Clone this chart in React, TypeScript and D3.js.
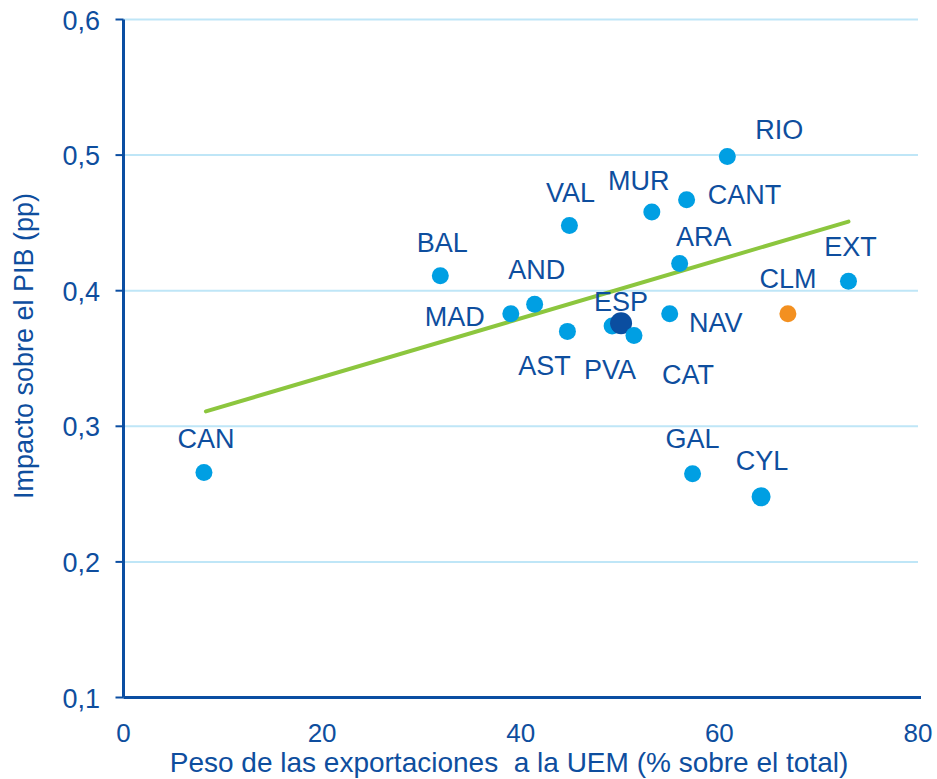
import * as d3 from 'd3';

const regions = ['CAN', 'BAL', 'MAD', 'AND', 'VAL', 'AST', 'PVA', 'ESP', 'CAT', 'NAV', 'ARA', 'MUR', 'CANT', 'RIO', 'EXT', 'CLM', 'GAL', 'CYL'];
const exportShare = [8.1, 31.9, 39.0, 41.4, 44.9, 44.7, 49.2, 50.1, 51.4, 55.0, 56.0, 53.2, 56.7, 60.8, 73.0, 66.9, 57.3, 64.2];
const gdpImpact = [0.266, 0.411, 0.383, 0.39, 0.448, 0.37, 0.374, 0.376, 0.367, 0.383, 0.42, 0.458, 0.467, 0.499, 0.407, 0.383, 0.265, 0.248];
const trendX = [8.3, 73.0];
const trendY = [0.311, 0.451];
const xTicks = [0, 20, 40, 60, 80];
const yTicks = [0.1, 0.2, 0.3, 0.4, 0.5, 0.6];

// label placement relative to each dot (px)
const labelOffsets: Record<string, [number, number]> = {
	CAN: [2, -24], BAL: [2, -24], MAD: [-56, 12], AND: [2, -25], VAL: [1, -24],
	AST: [-23, 44], PVA: [-2, 53], ESP: [0, -12], CAT: [54, 49], NAV: [46, 18],
	ARA: [24, -18], MUR: [-13, -22], CANT: [58, 4], RIO: [52, -17], EXT: [2, -25],
	CLM: [0, -26], GAL: [0, -26], CYL: [1, -27],
};

const W = 937;
const H = 779;
const FONT = '"Liberation Sans", Arial, sans-serif';
const TEXT = '#0E4E9E';
const AXIS = '#0B4EA2';

export default function App() {
	const x = d3.scaleLinear().domain([0, 80]).range([123.5, 918]);
	const y = d3.scaleLinear().domain([0.1, 0.6]).range([697.5, 19.5]);
	const fmt = (v: number) => d3.format('.1f')(v).replace('.', ',');

	const trend = d3.line<number>()
		.x((_, i) => x(trendX[i]))
		.y((_, i) => y(trendY[i]))(trendX) ?? '';

	const dotColor = (r: string) => (r === 'ESP' ? '#0B4EA0' : r === 'CLM' ? '#F39020' : '#009FE3');
	const dotR = (r: string) => (r === 'ESP' ? 11 : r === 'CYL' ? 9.5 : 8.5);

	return (
		<svg width={W} height={H} style={{ position: 'absolute', left: 0, top: 0, background: '#fff' }} fontFamily={FONT}>
			{yTicks.filter((t) => t > 0.1).map((t) => (
				<line key={t} x1={x(0)} x2={x(80)} y1={y(t)} y2={y(t)} stroke='#BFE6F7' strokeWidth={2} />
			))}
			<line x1={x(0)} x2={x(0)} y1={y(0.6)} y2={y(0.1)} stroke={AXIS} strokeWidth={3} />
			<line x1={x(0)} x2={x(80) + 3} y1={y(0.1)} y2={y(0.1)} stroke={AXIS} strokeWidth={3} />
			{yTicks.map((t) => (
				<g key={t}>
					<line x1={x(0) - 8} x2={x(0)} y1={y(t)} y2={y(t)} stroke={AXIS} strokeWidth={2} />
					<text x={100} y={y(t) + 10} textAnchor='end' fontSize={27} fill={TEXT}>{fmt(t)}</text>
				</g>
			))}
			{xTicks.map((t) => (
				<text key={t} x={x(t)} y={742} textAnchor='middle' fontSize={26} fill={TEXT}>{t}</text>
			))}
			<text x={509} y={772} textAnchor='middle' fontSize={28} fill={TEXT} style={{ whiteSpace: 'pre' }}>
				{'Peso de las exportaciones  a la UEM (% sobre el total)'}
			</text>
			<text transform={`translate(33,346) rotate(-90)`} textAnchor='middle' fontSize={27} fill={TEXT}>
				Impacto sobre el PIB (pp)
			</text>
			<path d={trend} stroke='#8CC63E' strokeWidth={4} strokeLinecap='round' fill='none' />
			{regions.map((r, i) => (
				<circle key={r} cx={x(exportShare[i])} cy={y(gdpImpact[i])} r={dotR(r)} fill={dotColor(r)} />
			))}
			{regions.map((r, i) => (
				<text key={r} x={x(exportShare[i]) + labelOffsets[r][0]} y={y(gdpImpact[i]) + labelOffsets[r][1]}
					textAnchor='middle' fontSize={27} fill={TEXT}>{r}</text>
			))}
		</svg>
	);
}
